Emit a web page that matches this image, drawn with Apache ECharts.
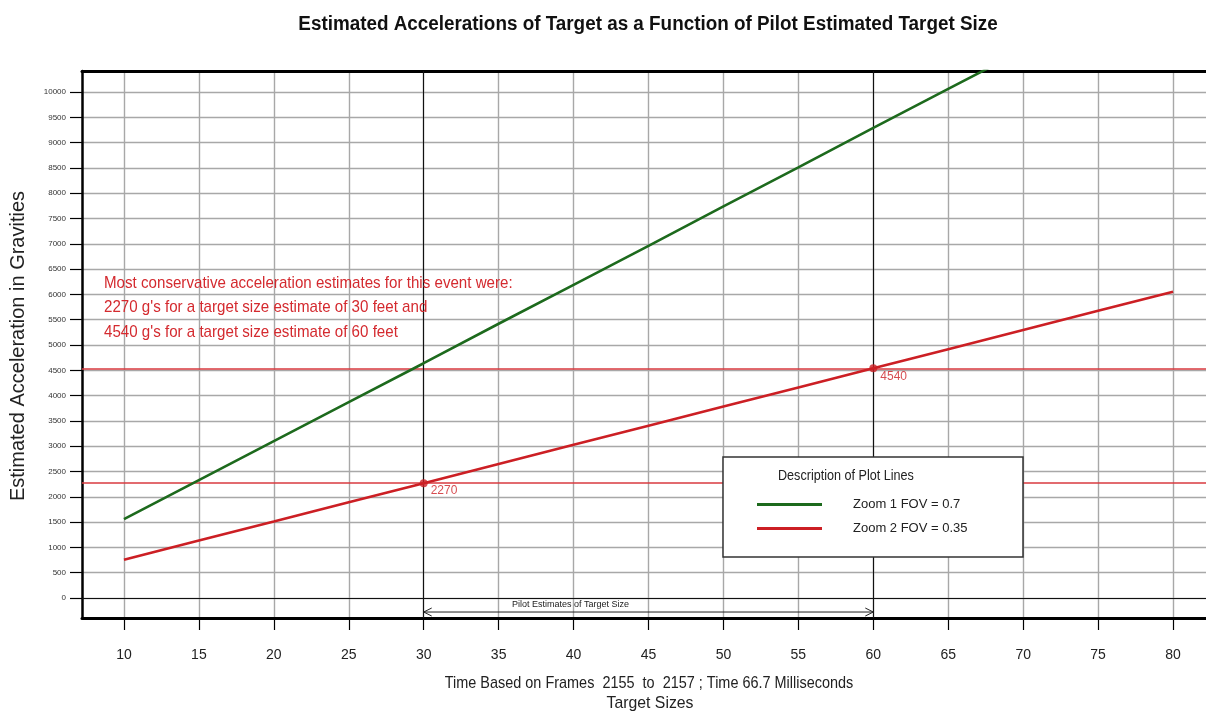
<!DOCTYPE html>
<html>
<head>
<meta charset="utf-8">
<script src="https://cdn.jsdelivr.net/npm/echarts@6/dist/echarts.min.js"></script>
<style>
  html, body { margin: 0; padding: 0; background: #fff; }
  #chart { width: 1206px; height: 712px; }
</style>
</head>
<body>
<div id="chart"></div>
<script>
// Target size (feet) on the horizontal axis
const targetSizes = [10, 15, 20, 25, 30, 35, 40, 45, 50, 55, 60, 65, 70, 75, 80];
// Estimated acceleration (g) for the two zoom settings
const zoom1Accel = [1560, 2330, 3100, 3870, 4640, 5420, 6190, 6960, 7740, 8510, 9290, 10060, 10830];
const zoom2Accel = [757, 1135, 1513, 1892, 2270, 2648, 3027, 3405, 3783, 4162, 4540, 4918, 5297, 5675, 6053];
// Pilot estimates of target size and the matching conservative accelerations
const pilotSizes = [30, 60];
const pilotAccel = [2270, 4540];
// Axis tick values
const xTicks = [10, 15, 20, 25, 30, 35, 40, 45, 50, 55, 60, 65, 70, 75, 80];
const yTicks = [0, 500, 1000, 1500, 2000, 2500, 3000, 3500, 4000, 4500, 5000, 5500, 6000, 6500, 7000, 7500, 8000, 8500, 9000, 9500, 10000];

const seriesNames = ['Zoom 1 FOV = 0.7', 'Zoom 2 FOV = 0.35'];
const titleText = 'Estimated Accelerations of Target as a Function of Pilot Estimated Target Size';
const yName = 'Estimated Acceleration in Gravities';
const xName1 = 'Time Based on Frames  2155  to  2157 ; Time 66.7 Milliseconds';
const xName2 = 'Target Sizes';
const legendTitle = 'Description of Plot Lines';
const arrowText = 'Pilot Estimates of Target Size';
const noteLines = [
  'Most conservative acceleration estimates for this event were:',
  '2270 g\'s for a target size estimate of 30 feet and',
  '4540 g\'s for a target size estimate of 60 feet'
];

const SANS = '"Liberation Sans", Arial, sans-serif';
const GREEN = '#1d6a1d';
const RED = '#cc1f24';
const X_MIN = 7.2, X_MAX = 82.2;

const chart = echarts.init(document.getElementById('chart'), null, { renderer: 'canvas' });

const pair = (xs, ys) => ys.map((y, i) => [xs[i], y]);

// Horizontally condensed text block (narrow face look)
function narrowText(text, x, y, size, sx, extra) {
  return {
    type: 'text', x: x, y: y, scaleX: sx,
    style: Object.assign({
      text: text, fontFamily: SANS, fontSize: size, fill: '#222',
      textAlign: 'center', textVerticalAlign: 'middle'
    }, extra || {})
  };
}

const option = {
  backgroundColor: '#ffffff',
  animation: false,
  grid: {
    left: 82, top: 71, right: 0, bottom: 94, show: false
  },
  xAxis: [
    {
      type: 'value',
      min: X_MIN, max: X_MAX,
      axisLine: { show: true, onZero: false, lineStyle: { color: '#000', width: 3 } },
      axisTick: { show: true, customValues: xTicks, length: 12, lineStyle: { color: '#000', width: 1.2 } },
      axisLabel: {
        customValues: xTicks, margin: 30,
        fontFamily: SANS, fontSize: 14, color: '#222'
      },
      splitLine: { show: true, lineStyle: { color: '#a8a8a8', width: 1.4 } }
    },
    {
      // top frame edge
      type: 'value', position: 'top',
      min: X_MIN, max: X_MAX,
      axisLine: { show: true, onZero: false, lineStyle: { color: '#000', width: 3 } },
      axisTick: { show: false }, axisLabel: { show: false }, splitLine: { show: false }
    }
  ],
  yAxis: {
    type: 'value',
    min: -395, max: 10415,
    axisLine: { show: true, onZero: false, lineStyle: { color: '#000', width: 2.5 } },
    axisTick: { show: true, customValues: yTicks, length: 12, lineStyle: { color: '#000', width: 1.2 } },
    axisLabel: {
      customValues: yTicks, margin: 16,
      formatter: v => String(v),
      fontFamily: SANS, fontSize: 8, color: '#333'
    },
    splitLine: { show: true, lineStyle: { color: '#a8a8a8', width: 1.4 } }
  },
  legend: {
    data: seriesNames.map(n => ({ name: n, icon: 'rect' })),
    orient: 'vertical',
    left: 752, top: 493,
    itemWidth: 65, itemHeight: 3, itemGap: 11,
    z: 60,
    textStyle: { fontFamily: SANS, fontSize: 13, color: '#222', padding: [0, 0, 0, 26] }
  },
  graphic: [
    {
      type: 'rect', z: 50,
      shape: { x: 723, y: 457, width: 300, height: 100 },
      style: { fill: '#fff', stroke: '#333', lineWidth: 1.5 }
    },
    Object.assign(narrowText(legendTitle, 778, 476, 14, 0.9, { textAlign: 'left' }), { z: 51 }),
    Object.assign(narrowText(noteLines.join('\n'), 104, 271, 17, 0.89,
      { textAlign: 'left', textVerticalAlign: 'top', lineHeight: 24.5, fill: '#d42a2f' }), { z: 40 }),
    narrowText(titleText, 648, 24, 20, 0.943, { fontWeight: 'bold', fill: '#111' }),
    {
      type: 'text', x: 18, y: 346, rotation: Math.PI / 2,
      style: {
        text: yName, fontFamily: SANS, fontSize: 20,
        fill: '#222', textAlign: 'center', textVerticalAlign: 'middle'
      }
    },
    narrowText(xName1, 649, 683, 17, 0.85),
    narrowText(xName2, 650, 703, 17, 0.93)
  ],
  series: [
    {
      name: seriesNames[0],
      type: 'line',
      data: pair(targetSizes, zoom1Accel),
      symbol: 'none',
      clip: true,
      lineStyle: { color: GREEN, width: 2.6 },
      itemStyle: { color: GREEN },
      z: 5
    },
    {
      name: seriesNames[1],
      type: 'line',
      data: pair(targetSizes, zoom2Accel),
      symbol: 'none',
      clip: true,
      lineStyle: { color: RED, width: 2.6 },
      itemStyle: { color: RED },
      z: 5,
      markLine: {
        silent: true, symbol: 'none', label: { show: false },
        lineStyle: { color: '#d83a3f', width: 1.6, type: 'solid' },
        data: pilotAccel.map(v => ({ yAxis: v }))
      }
    },
    {
      // Reference lines at the pilot size estimates and the zero level
      name: 'refs',
      type: 'line',
      data: [],
      z: 4,
      markLine: {
        silent: true, symbol: 'none', label: { show: false },
        lineStyle: { color: '#111', width: 1.1, type: 'solid' },
        data: pilotSizes.map(v => ({ xAxis: v })).concat([{ yAxis: 0 }])
      }
    },
    {
      name: 'pilot',
      type: 'scatter',
      data: pair(pilotSizes, pilotAccel),
      symbol: 'circle',
      symbolSize: 8,
      itemStyle: { color: RED },
      z: 6,
      label: {
        show: true, position: 'right', distance: 3, offset: [0, 8],
        formatter: p => String(p.value[1]),
        fontFamily: SANS, fontSize: 12, color: RED
      }
    },
    {
      // Double-headed arrow spanning the pilot size estimates
      name: 'arrow',
      type: 'custom',
      data: [[pilotSizes[0], pilotSizes[1]]],
      z: 6,
      renderItem: function (params, api) {
        const yArrow = -277, yText = -119;
        const a = api.coord([api.value(0), yArrow]);
        const b = api.coord([api.value(1), yArrow]);
        const mid = api.coord([(api.value(0) + api.value(1)) / 2 - 5.2, yText]);
        const s = 8, h = 4;
        const st = { stroke: '#222', lineWidth: 1, fill: null };
        return {
          type: 'group',
          children: [
            { type: 'line', shape: { x1: a[0], y1: a[1], x2: b[0], y2: b[1] }, style: st },
            { type: 'polyline', shape: { points: [[a[0] + s, a[1] - h], [a[0], a[1]], [a[0] + s, a[1] + h]] }, style: st },
            { type: 'polyline', shape: { points: [[b[0] - s, b[1] - h], [b[0], b[1]], [b[0] - s, b[1] + h]] }, style: st },
            {
              type: 'text', x: mid[0], y: mid[1],
              style: { text: arrowText, fontFamily: SANS, fontSize: 9, fill: '#222', textAlign: 'center', textVerticalAlign: 'middle' }
            }
          ]
        };
      }
    }
  ]
};

chart.setOption(option);
</script>
</body>
</html>
